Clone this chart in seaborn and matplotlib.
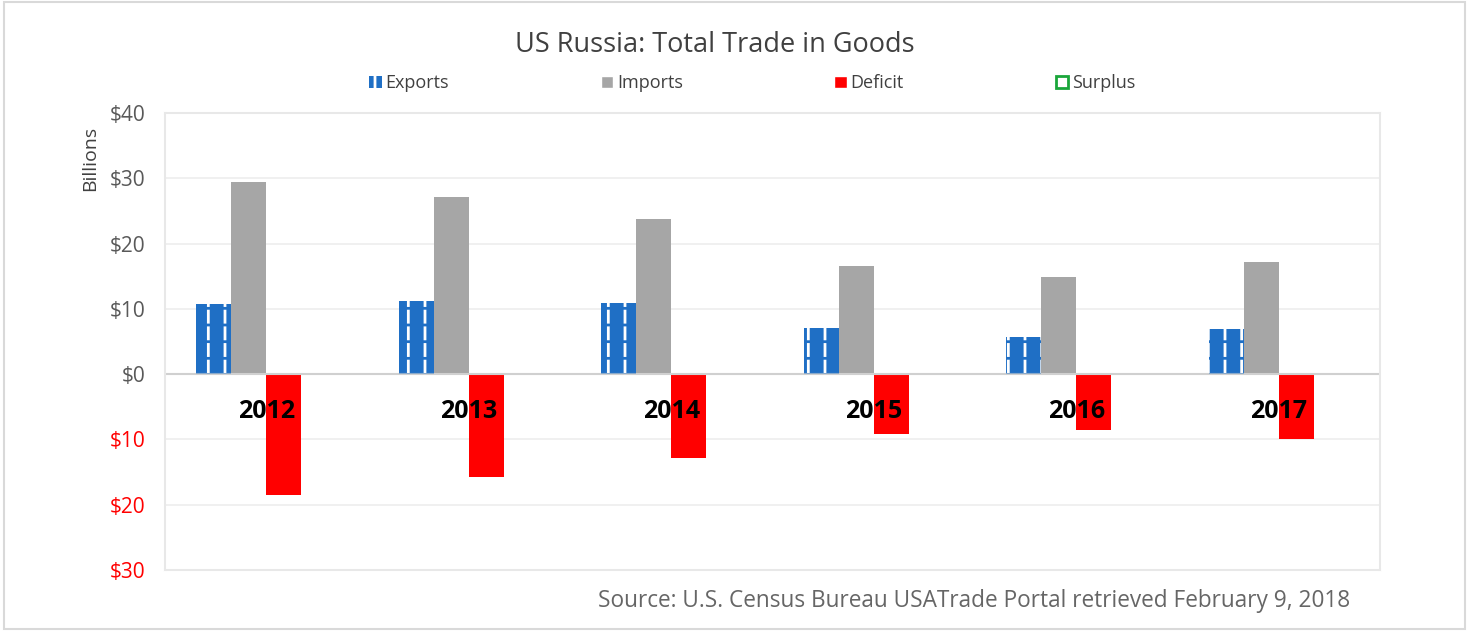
import pandas as pd
import numpy as np
import seaborn as sns
import matplotlib as mpl
import matplotlib.pyplot as plt
from matplotlib.patches import Patch, Rectangle

years = ["2012", "2013", "2014", "2015", "2016", "2017"]
exports = [10.8, 11.2, 10.9, 7.1, 5.7, 6.9]
imports = [29.5, 27.2, 23.8, 16.6, 14.8, 17.2]
deficit = [-18.5, -15.8, -12.9, -9.2, -8.6, -9.9]
surplus = [0, 0, 0, 0, 0, 0]
series = ["Exports", "Imports", "Deficit", "Surplus"]
yticks = [40, 30, 20, 10, 0, -10, -20, -30]

df = pd.DataFrame({
    "year": years * 4,
    "series": np.repeat(series, len(years)),
    "value": exports + imports + deficit + surplus,
})

sns.set_style("white")
plt.rcParams['font.family'] = ['Open Sans', 'DejaVu Sans']
plt.rcParams['hatch.linewidth'] = 2.0

colors = {"Exports": "#1f6fc5", "Imports": "#a6a6a6", "Deficit": "#ff0000", "Surplus": "#ffffff"}

fig = plt.figure(figsize=(14.69, 6.31), dpi=100)
ax = fig.add_axes([0.1123, 0.0967, 0.8271, 0.7243])

sns.barplot(data=df, x="year", y="value", hue="series", hue_order=series,
            palette=colors, width=0.69, gap=0, linewidth=0, saturation=1,
            legend=False, ax=ax)
xlim = ax.get_xlim()

# white dashed pattern on exports bars: white vertical hatch broken by blue horizontal hatch
for bar in list(ax.containers[0]):
    bar.set_hatch("|")
    bar.set_edgecolor("white")
    bar.set_linewidth(0)
    ax.bar(bar.get_x(), bar.get_height(), width=bar.get_width(), bottom=bar.get_y(),
           align="edge", facecolor="none", edgecolor=colors["Exports"],
           hatch="-", linewidth=0, zorder=bar.get_zorder() + 0.1)
ax.set_xlim(xlim)

ax.set_ylim(-30, 40)
ax.set_yticks(yticks)
ax.set_yticklabels(["$%d" % abs(v) for v in yticks], fontsize=15)
for lab, v in zip(ax.get_yticklabels(), yticks):
    lab.set_color("#ff0000" if v < 0 else "#595959")
ax.tick_params(axis="y", length=0, pad=14)
ax.set_xticks([])
ax.set_xlabel("")
ax.set_ylabel("Billions", fontsize=14, color="#404040")
ax.yaxis.set_label_coords(-0.054, 0.9)

ax.grid(axis="y", color="#eeeeee", linewidth=1.2)
ax.set_axisbelow(True)
ax.axhline(0, color="#d0d0d0", linewidth=1.5, zorder=1)
for s in ax.spines.values():
    s.set_color("#e8e8e8")
    s.set_linewidth(1.5)

for i, y in enumerate(years):
    ax.text(i, -5.7, y, ha="center", va="center", fontsize=18,
            fontweight="bold", color="black", zorder=5)

fig.text(0.4864, 0.928, "US Russia: Total Trade in Goods", ha="center",
         va="center", fontsize=19.5, color="#404040")

handles = [
    Patch(facecolor=colors["Exports"], edgecolor="white", hatch="|", linewidth=0),
    Patch(facecolor=colors["Imports"]),
    Patch(facecolor=colors["Deficit"]),
    Patch(facecolor="white", edgecolor="#1aa63a", linewidth=2),
]
fig.legend(handles, series, loc="center", bbox_to_anchor=(0.512, 0.868), ncol=4,
           frameon=False, fontsize=13, handlelength=0.7, handleheight=0.7,
           handletextpad=0.2, columnspacing=8.4, labelcolor="#404040")

fig.text(0.919, 0.048, "Source: U.S. Census Bureau USATrade Portal retrieved February 9, 2018",
         ha="right", va="center", fontsize=16.3, color="#666666")

fig.patches.append(Rectangle((0.003, 0.003), 0.994, 0.994, transform=fig.transFigure,
                             fill=False, edgecolor="#d9d9d9", linewidth=1.5))

fig.savefig("out.png", dpi=100)
